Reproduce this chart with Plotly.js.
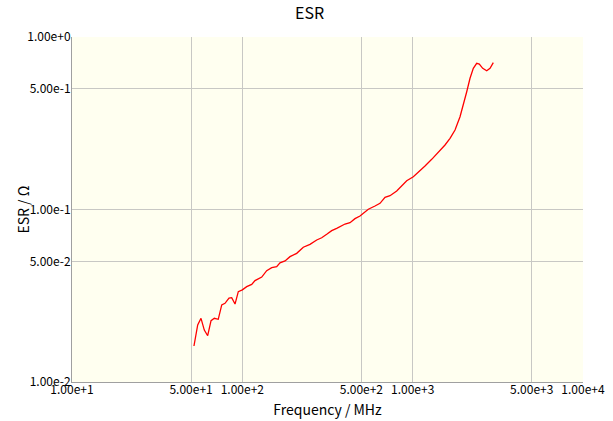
<!DOCTYPE html>
<html>
<head>
<meta charset="utf-8">
<script src="https://cdn.plot.ly/plotly-3.0.1.min.js"></script>
<style>html,body{margin:0;padding:0;background:#fff;}#chart{width:613px;height:421px;}</style>
</head>
<body>
<div id="chart"></div>
<script>
const freqMHz = [52.0, 54.7, 57.2, 59.8, 62.6, 65.5, 68.5, 72.2, 75.7, 79.1, 83.5, 86.6, 90.6, 94.7, 100, 106.1, 113.5, 118.7, 130.0, 139.0, 148.8, 159.1, 166.4, 178.1, 190.5, 208.5, 228.0, 249.6, 273.3, 292.4, 312.9, 334.7, 358.1, 383.2, 400.7, 428.7, 458.6, 490.7, 520.1, 549.2, 601.0, 643.1, 688.1, 736.2, 806.0, 862.4, 922.7, 1009, 1079.3, 1181.5, 1293.6, 1414.6, 1548.5, 1656.8, 1772.9, 1896.7, 1983.3, 2076.7, 2171.2, 2270.1, 2376.9, 2461.5, 2577.5, 2721, 2845.3, 2974.5];
const esrOhm = [0.01617, 0.0214, 0.0234, 0.0200, 0.01855, 0.02266, 0.0234, 0.0231, 0.0280, 0.0286, 0.0306, 0.0308, 0.0283, 0.0334, 0.0342, 0.0357, 0.0368, 0.0387, 0.0406, 0.0442, 0.0460, 0.0466, 0.0491, 0.0503, 0.0533, 0.0557, 0.0604, 0.0628, 0.0666, 0.0686, 0.0718, 0.0754, 0.0778, 0.0805, 0.0824, 0.0839, 0.0885, 0.0917, 0.0958, 0.1003, 0.1048, 0.1086, 0.1177, 0.1202, 0.1280, 0.1368, 0.1469, 0.1549, 0.1656, 0.1788, 0.1954, 0.2135, 0.2365, 0.2587, 0.2889, 0.3451, 0.4035, 0.4818, 0.5762, 0.6586, 0.7039, 0.6974, 0.6586, 0.6377, 0.6586, 0.7097];
const xTickVals = [10, 50, 100, 500, 1000, 5000, 10000];
const xTickText = ["1.00e+1", "5.00e+1", "1.00e+2", "5.00e+2", "1.00e+3", "5.00e+3", "1.00e+4"];
const yTickVals = [0.01, 0.05, 0.1, 0.5, 1];
const yTickText = ["1.00e-2", "5.00e-2", "1.00e-1", "5.00e-1", "1.00e+0"];
const yTitleText = 'ESR / Ω';

const fontFam = '"Noto Sans CJK JP", "DejaVu Sans", sans-serif';
const trace = {
  x: freqMHz, y: esrOhm, type: 'scatter', mode: 'lines',
  line: {color: '#ff0000', width: 1.3, shape: 'linear'},
  hoverinfo: 'skip'
};
const layout = {
  width: 613, height: 421,
  margin: {l: 72, r: 30, t: 37, b: 39},
  paper_bgcolor: '#ffffff', plot_bgcolor: '#fffff0',
  showlegend: false,
  font: {family: fontFam, size: 12, color: '#000'},
  title: {text: 'ESR', x: 0.505, xanchor: 'center', y: 0.967, yanchor: 'middle', font: {family: fontFam, size: 16, color: '#000'}},
  xaxis: {
    type: 'log', range: [1, 4], tickvals: xTickVals, ticktext: xTickText,
    showgrid: true, gridcolor: '#c8c8c4', gridwidth: 1, zeroline: false,
    showline: true, linecolor: '#a0a0a0', linewidth: 1, ticks: '',
    ticklabelstandoff: -3,
    tickfont: {family: fontFam, size: 12, color: '#000'},
    title: {text: 'Frequency / MHz', standoff: 8, font: {family: fontFam, size: 14, color: '#000'}},
    automargin: false
  },
  yaxis: {
    type: 'log', range: [-2, 0], tickvals: yTickVals, ticktext: yTickText,
    showgrid: true, gridcolor: '#c8c8c4', gridwidth: 1, zeroline: false,
    showline: true, linecolor: '#a0a0a0', linewidth: 1, ticks: '',
    ticklabelstandoff: -2,
    tickfont: {family: fontFam, size: 12, color: '#000'},
    automargin: false
  },
  annotations: [{
    text: yTitleText, xref: 'paper', yref: 'paper', x: 0, y: 0.5,
    xanchor: 'center', yanchor: 'middle', xshift: -50, textangle: -90,
    showarrow: false, font: {family: fontFam, size: 14, color: '#000'}
  }]
};
Plotly.newPlot('chart', [trace], layout, {staticPlot: true, displayModeBar: false});
</script>
</body>
</html>
